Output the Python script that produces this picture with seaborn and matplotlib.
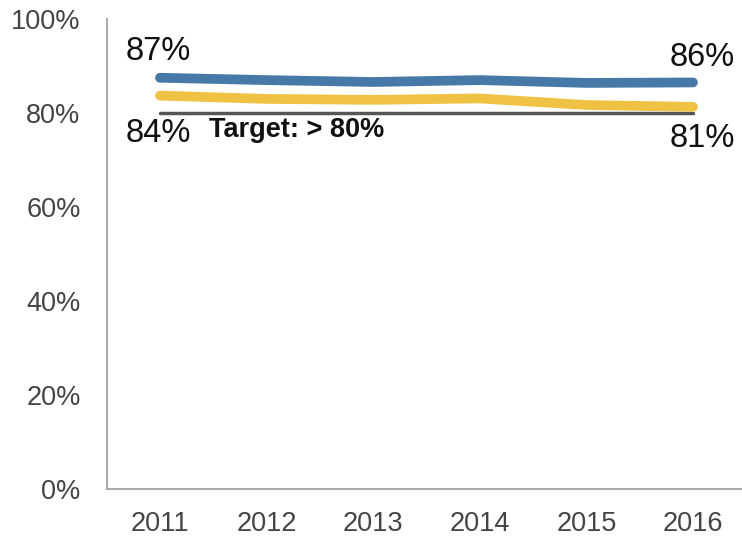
import matplotlib
matplotlib.use("Agg")
import matplotlib.pyplot as plt
import seaborn as sns
import pandas as pd

years = [2011, 2012, 2013, 2014, 2015, 2016]
series_a = [87.5, 87.0, 86.6, 87.0, 86.4, 86.5]
series_b = [83.7, 83.0, 82.8, 83.1, 81.7, 81.3]
target = 80
year_labels = ["2011", "2012", "2013", "2014", "2015", "2016"]
y_ticks = [0, 20, 40, 60, 80, 100]
y_labels = ["0%", "20%", "40%", "60%", "80%", "100%"]

df = pd.DataFrame({
    "year": years * 2,
    "value": series_a + series_b,
    "series": ["A"] * len(years) + ["B"] * len(years),
})

sns.set_style("white")
plt.rcParams["font.family"] = ["Liberation Sans", "DejaVu Sans"]

fig = plt.figure(figsize=(7.42, 5.41), dpi=100)
ax = fig.add_axes([107 / 742, 52 / 541, (742 - 107) / 742, (489 - 19) / 541])

# target line
ax.plot([years[0], years[-1]], [target, target], color="#555555", lw=2.5,
        solid_capstyle="butt", zorder=1)

palette = {"A": "#4679a8", "B": "#efc244"}
sns.lineplot(data=df, x="year", y="value", hue="series", palette=palette,
             linewidth=7, legend=False, ax=ax, zorder=2)
for ln in ax.lines:
    ln.set_solid_capstyle("round")
    ln.set_solid_joinstyle("round")

ax.set_xlim(2010.503, 2016.46)
ax.set_ylim(0, 100)
ax.set_xticks(years)
ax.set_xticklabels(year_labels)
ax.set_yticks(y_ticks)
ax.set_yticklabels(y_labels)
ax.set_xlabel("")
ax.set_ylabel("")
ax.tick_params(axis="both", length=0, labelsize=19.5, labelcolor="#444444")
ax.tick_params(axis="y", pad=19)
ax.tick_params(axis="x", pad=16)
for s in ["top", "right"]:
    ax.spines[s].set_visible(False)
for s in ["left", "bottom"]:
    ax.spines[s].set_color("#aaaaaa")
    ax.spines[s].set_linewidth(1.5)

txt = dict(fontsize=23.5, color="#111111")
ax.annotate("87%", xy=(years[0], series_a[0]), xytext=(-25, 19),
            textcoords="offset points", ha="left", va="center", **txt)
ax.annotate("84%", xy=(years[0], series_b[0]), xytext=(-25, -27),
            textcoords="offset points", ha="left", va="center", **txt)
ax.annotate("86%", xy=(years[-1], series_a[-1]), xytext=(30, 18),
            textcoords="offset points", ha="right", va="center", **txt)
ax.annotate("81%", xy=(years[-1], series_b[-1]), xytext=(30, -23),
            textcoords="offset points", ha="right", va="center", **txt)
ax.annotate("Target: > 80%", xy=(years[0], target), xytext=(35, -12),
            textcoords="offset points", ha="left", va="center",
            fontsize=19.5, fontweight="bold", color="#111111")

fig.savefig("out.png", dpi=100)
